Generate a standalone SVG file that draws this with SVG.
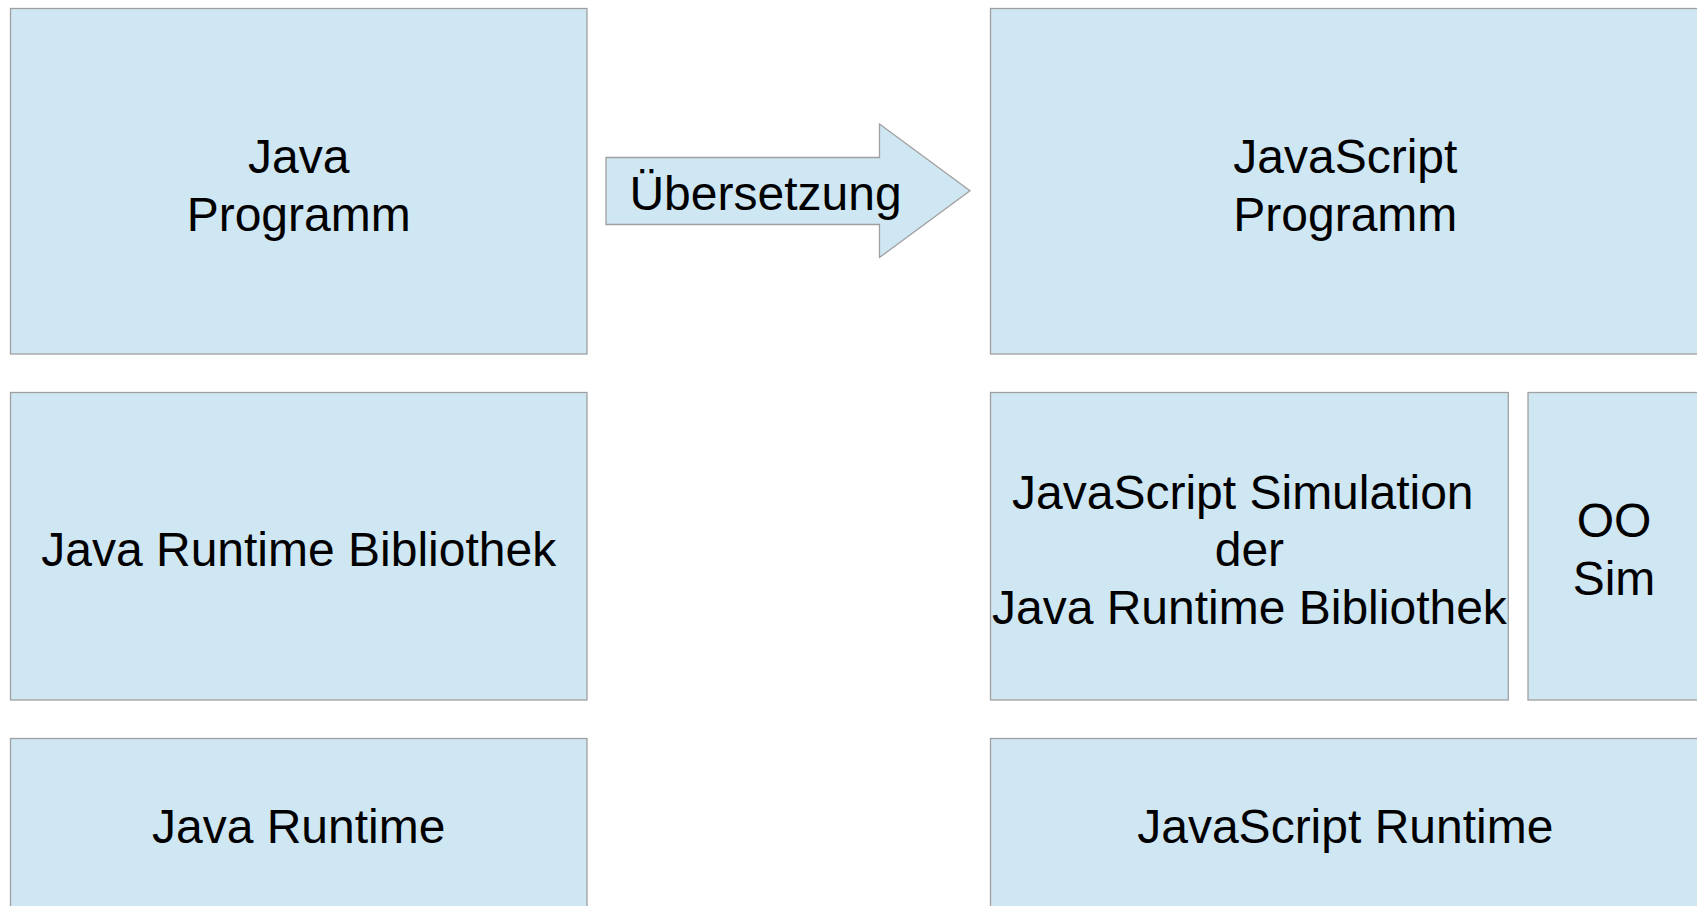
<svg xmlns="http://www.w3.org/2000/svg" width="1697" height="906" viewBox="0 0 1697 906">
<style>
.box{fill:#cfe6f3;stroke:#a0a0a0;stroke-width:1.3}
.t{font-family:"Liberation Sans",Arial,sans-serif;font-size:48px;fill:#000;text-anchor:middle}
</style>
<rect width="1697" height="906" fill="#ffffff"/>
<g id="java-programm">
<rect class="box" x="10.5" y="8.5" width="576.5" height="345.5"/>
<text class="t" x="298.7" y="173">Java</text>
<text class="t" x="298.7" y="230.5">Programm</text>
</g>
<g id="java-runtime-bibliothek">
<rect class="box" x="10.5" y="392.5" width="576.5" height="307.5"/>
<text class="t" x="298.7" y="566">Java Runtime Bibliothek</text>
</g>
<g id="java-runtime">
<rect class="box" x="10.5" y="738.5" width="576.5" height="177"/>
<text class="t" x="298.7" y="843">Java Runtime</text>
</g>
<g id="js-programm">
<rect class="box" x="990.5" y="8.5" width="710" height="345.5"/>
<text class="t" x="1345.3" y="173">JavaScript</text>
<text class="t" x="1345.3" y="230.5">Programm</text>
</g>
<g id="js-simulation">
<rect class="box" x="990.5" y="392.5" width="517.8" height="307.5"/>
<text class="t" x="1242.8" y="508.5">JavaScript Simulation</text>
<text class="t" x="1249.4" y="566">der</text>
<text class="t" x="1249.4" y="623.5">Java Runtime Bibliothek</text>
</g>
<g id="oo-sim">
<rect class="box" x="1528" y="392.5" width="172.5" height="307.5"/>
<text class="t" x="1614" y="537">OO</text>
<text class="t" x="1614" y="594.5">Sim</text>
</g>
<g id="js-runtime">
<rect class="box" x="990.5" y="738.5" width="710" height="177"/>
<text class="t" x="1345.3" y="843">JavaScript Runtime</text>
</g>
<g id="connectors">
<g id="uebersetzung">
<polygon class="box" points="606,157.5 879.5,157.5 879.5,124 970,190.7 879.5,257.5 879.5,224.5 606,224.5"/>
<text class="t" x="765.5" y="210">Übersetzung</text>
</g>
</g>
</svg>
